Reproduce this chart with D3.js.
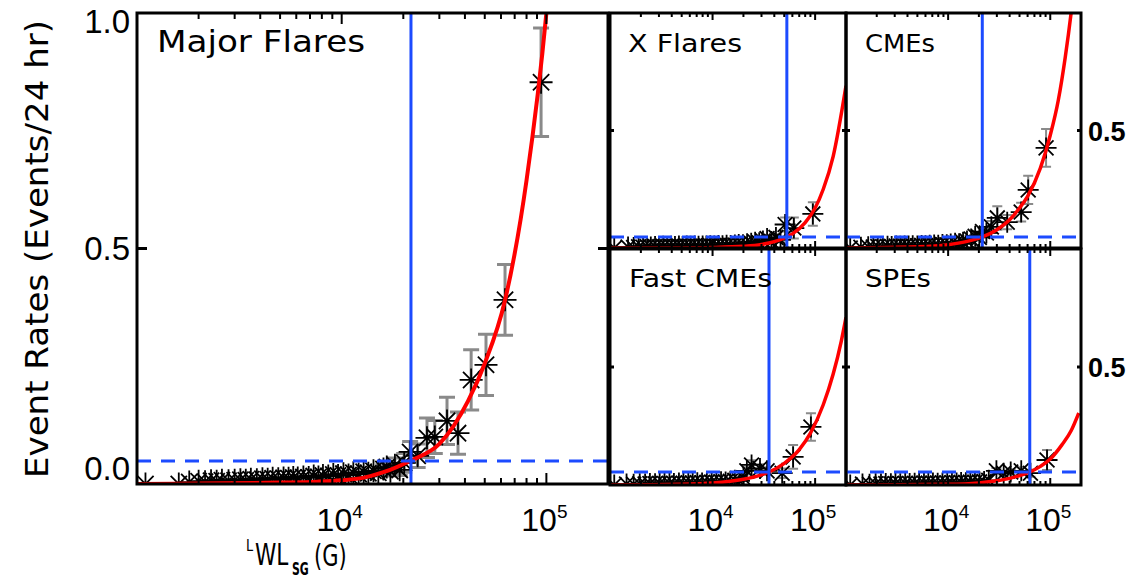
<!DOCTYPE html>
<html><head><meta charset="utf-8">
<script src="https://cdn.jsdelivr.net/npm/d3@7"></script>
<style>body{margin:0;background:#fff}svg{display:block}</style>
</head><body>
<svg id="c" width="1127" height="588"></svg>
<script>
// ---------------- DATA ----------------
const panelTitles = ["Major Flares", "X Flares", "CMEs", "Fast CMEs", "SPEs"];
const xTickValues = [1e4, 1e5];
const xTickExponents = ["4", "5"];
const yLeftTickLabels = ["0.0", "0.5", "1.0"];
const yLeftTickValues = [0, 0.5, 1.0];
const yRightTickLabels = ["0.5"];
const yRightTickValues = [0.5];
const xTitleParts = ["L", "WL", "SG", "(G)"];
const yTitle = "Event Rates (Events/24 hr)";

// Major Flares observed rates
const majorX = [1100,1600,1800,2000,2150,2300,2450,2600,2800,3000,3200,3400,3600,3850,4100,4350,4600,4900,5200,5500,5800,6100,6500,6900,7300,7700,8100,8600,9100,9600,10200,10800,11400,12100,12800,13500,14300,15100,16000,16600,17300,18200,19200,20200,21600,23500,26100,28500,32700,37000,42900,50700,62800,94200];
const majorY = [0.0,0.0,0.004,0.006,0.005,0.007,0.006,0.008,0.007,0.008,0.009,0.008,0.010,0.009,0.011,0.010,0.012,0.011,0.013,0.012,0.014,0.013,0.015,0.014,0.017,0.015,0.018,0.017,0.020,0.018,0.022,0.019,0.024,0.021,0.026,0.023,0.028,0.024,0.032,0.036,0.027,0.040,0.030,0.045,0.068,0.060,0.098,0.100,0.134,0.108,0.221,0.253,0.391,0.853];
const majorErr = [0,0,0,0,0,0,0,0,0,0,0,0,0,0,0,0,0,0,0,0,0,0,0,0,0,0,0,0,0,0,0,0,0,0,0,0,0,0,0.010,0.012,0.010,0.015,0.012,0.020,0.022,0.025,0.042,0.035,0.050,0.045,0.064,0.065,0.075,0.115];
const majorFitX = [1000,2000,5000,7600,10000,12700,16000,21800,30000,41400,50000,62800,80000,100000,110000];
const majorFitY = [0.000,0.001,0.003,0.005,0.008,0.013,0.025,0.050,0.085,0.176,0.256,0.390,0.645,1.000,1.210];

// X Flares
const xflX = [1100,1500,1700,1900,2100,2300,2500,2750,3000,3300,3600,3950,4300,4700,5100,5600,6100,6700,7300,8000,8700,9500,10400,11400,12500,13700,15000,16500,18000,19800,21700,23800,26000,28500,31000,34000,37500,41500,46000,51000,62000,95000];
const xflY = [0.0,0.004,0.002,0.005,0.003,0.006,0.004,0.006,0.005,0.007,0.005,0.007,0.006,0.008,0.006,0.008,0.007,0.009,0.007,0.009,0.008,0.010,0.009,0.011,0.010,0.012,0.011,0.013,0.015,0.014,0.018,0.020,0.025,0.022,0.030,0.040,0.028,0.045,0.035,0.100,0.085,0.145];
const xflErr = [0,0,0,0,0,0,0,0,0,0,0,0,0,0,0,0,0,0,0,0,0,0,0,0,0,0,0,0,0,0,0,0,0,0,0,0.010,0,0.012,0.010,0.030,0.045,0.050];
const xflFitX = [1000,5000,10000,20000,30000,40000,53000,60000,80000,100000,120000,150000,200000];
const xflFitY = [0.000,0.0005,0.002,0.007,0.015,0.027,0.047,0.060,0.108,0.170,0.250,0.390,0.690];

// CMEs
const cmeX = [1100,1400,1650,1850,2050,2300,2550,2800,3100,3400,3750,4100,4500,5000,5500,6000,6600,7300,8000,8800,9700,10600,11700,12800,14000,15300,16800,18400,20200,21700,23700,26500,30300,37900,51900,60800,91000];
const cmeY = [0.0,0.003,0.005,0.004,0.006,0.005,0.007,0.006,0.008,0.007,0.009,0.008,0.010,0.009,0.011,0.010,0.012,0.013,0.012,0.015,0.014,0.017,0.020,0.018,0.024,0.030,0.038,0.050,0.045,0.070,0.064,0.090,0.128,0.110,0.153,0.247,0.426];
const cmeErr = [0,0,0,0,0,0,0,0,0,0,0,0,0,0,0,0,0,0,0,0,0,0,0,0,0,0,0,0,0,0.015,0.018,0.025,0.050,0.030,0.040,0.060,0.080];
const cmeFitX = [1000,5000,10000,15000,21600,30000,40000,50000,60000,80000,100000,120000,140000,160000,170000];
const cmeFitY = [0.000,0.005,0.014,0.027,0.047,0.078,0.120,0.170,0.220,0.340,0.480,0.630,0.810,1.000,1.100];

// Fast CMEs
const fastX = [1100,1450,1700,1950,2200,2450,2750,3050,3400,3800,4200,4700,5200,5800,6400,7100,7900,8800,9800,10900,12100,13400,14900,16500,18300,20000,21600,24000,29000,34000,47700,61000,91000];
const fastY = [0.0,0.004,0.003,0.005,0.004,0.006,0.005,0.007,0.006,0.007,0.006,0.008,0.007,0.009,0.008,0.010,0.009,0.011,0.012,0.011,0.014,0.013,0.016,0.020,0.018,0.030,0.060,0.085,0.070,0.060,0.050,0.119,0.246];
const fastErr = [0,0,0,0,0,0,0,0,0,0,0,0,0,0,0,0,0,0,0,0,0,0,0,0,0,0,0.015,0.020,0.018,0.015,0.020,0.050,0.058];
const fastFitX = [1000,5000,10000,20000,30000,35500,50000,70000,90000,120000,150000,180000,200000];
const fastFitY = [0.000,0.003,0.008,0.024,0.043,0.055,0.092,0.150,0.220,0.340,0.470,0.610,0.710];

// SPEs
const speX = [1100,1450,1700,1950,2200,2450,2750,3050,3400,3800,4200,4700,5200,5800,6400,7100,7900,8800,9800,10900,12100,13400,14900,16500,18300,20300,22500,25000,29700,35000,41000,52000,64000,93000];
const speY = [0.0,0.004,0.003,0.005,0.004,0.006,0.005,0.006,0.005,0.007,0.006,0.007,0.006,0.008,0.007,0.008,0.007,0.009,0.008,0.010,0.009,0.011,0.010,0.012,0.011,0.013,0.015,0.020,0.060,0.050,0.055,0.060,0.050,0.106];
const speErr = [0,0,0,0,0,0,0,0,0,0,0,0,0,0,0,0,0,0,0,0,0,0,0,0,0,0,0,0,0.012,0.010,0.012,0.015,0.015,0.042];
const speFitX = [1000,10000,20000,30000,40000,50000,63000,80000,100000,130000,160000,190000];
const speFitY = [0.000,0.003,0.009,0.018,0.028,0.040,0.055,0.079,0.110,0.170,0.230,0.305];

// thresholds: vertical (field strength) and horizontal (rate)
const thresholdX = [21800, 53000, 21600, 35500, 63000];
const thresholdY = [0.049, 0.047, 0.047, 0.055, 0.055];

// ---------------- DRAW ----------------
const svg = d3.select("#c");
const RED = "#ff0000", BLUE = "#1c4bff", GRAY = "#8a8a8a";

const panels = [
  {x0:137, x1:608, y0:13, y1:484, X:majorX, Y:majorY, E:majorErr, FX:majorFitX, FY:majorFitY, big:true},
  {x0:610, x1:846, y0:13, y1:248, X:xflX, Y:xflY, E:xflErr, FX:xflFitX, FY:xflFitY},
  {x0:846, x1:1081, y0:13, y1:248, X:cmeX, Y:cmeY, E:cmeErr, FX:cmeFitX, FY:cmeFitY, right:true},
  {x0:610, x1:846, y0:249, y1:485, X:fastX, Y:fastY, E:fastErr, FX:fastFitX, FY:fastFitY},
  {x0:846, x1:1081, y0:249, y1:485, X:speX, Y:speY, E:speErr, FX:speFitX, FY:speFitY, right:true}
];
const titlePos = [
  {x:157, y:52, fs:30, len:208},
  {x:628, y:52, fs:24, len:114},
  {x:865, y:52, fs:24, len:70},
  {x:629, y:287, fs:24, len:143},
  {x:865, y:287, fs:24, len:66}
];

const defs = svg.append("defs");

function star(r) {
  const d = r * Math.SQRT1_2;
  return `M${-r},0L${r},0M0,${-r}L0,${r}M${-d},${-d}L${d},${d}M${-d},${d}L${d},${-d}`;
}

panels.forEach((p, i) => {
  const x = d3.scaleLog().domain([1e3, 2e5]).range([p.x0, p.x1]);
  const y = d3.scaleLinear().domain([0, 1]).range([p.y1, p.y0]);
  const g = svg.append("g");
  const cid = "clip" + i;
  defs.append("clipPath").attr("id", cid).append("rect")
    .attr("x", p.x0).attr("y", p.y0).attr("width", p.x1 - p.x0).attr("height", p.y1 - p.y0);
  const inner = g.append("g").attr("clip-path", `url(#${cid})`);

  const data = p.X.map((v, k) => ({x: v, y: p.Y[k], e: p.E[k]}));
  const cap = p.big ? 8 : 5;
  const eb = inner.append("g").attr("stroke", GRAY).attr("stroke-width", p.big ? 3 : 2).attr("fill", "none");
  data.filter(d => d.e > 0).forEach(d => {
    const cx = x(d.x), t = y(d.y + d.e), b = y(d.y - d.e);
    eb.append("path").attr("d", `M${cx},${t}L${cx},${b}M${cx-cap},${t}L${cx+cap},${t}M${cx-cap},${b}L${cx+cap},${b}`);
  });
  const r = p.big ? 11.5 : 10.5;
  inner.append("g").selectAll("path").data(data).join("path")
    .attr("transform", d => `translate(${x(d.x)},${y(d.y)})`)
    .attr("d", star(r)).attr("stroke", "#000").attr("stroke-width", 1.8).attr("fill", "none");

  const fit = p.FX.map((v, k) => [v, p.FY[k]]);
  inner.append("path").datum(fit)
    .attr("d", d3.line().x(d => x(d[0])).y(d => y(d[1])).curve(d3.curveMonotoneX))
    .attr("fill", "none").attr("stroke", RED).attr("stroke-width", p.big ? 4 : 3.5);

  inner.append("line").attr("x1", x(thresholdX[i])).attr("x2", x(thresholdX[i]))
    .attr("y1", p.y0).attr("y2", p.y1).attr("stroke", BLUE).attr("stroke-width", 3);
  inner.append("line").attr("x1", p.x0).attr("x2", p.x1)
    .attr("y1", y(thresholdY[i])).attr("y2", y(thresholdY[i]))
    .attr("stroke", BLUE).attr("stroke-width", 3).attr("stroke-dasharray", "14,10");

  // ticks
  const all = x.ticks();
  const major = all.filter(v => Math.abs(Math.log10(v) - Math.round(Math.log10(v))) < 1e-9);
  const minor = all.filter(v => !major.includes(v));
  const lmaj = p.big ? 11 : 7, lmin = p.big ? 6 : 4;
  const tk = g.append("g").attr("stroke", "#000").attr("stroke-width", 2);
  [[p.y1, -1], [p.y0, 1]].forEach(([yy, dir]) => {
    major.forEach(v => tk.append("line").attr("x1", x(v)).attr("x2", x(v)).attr("y1", yy).attr("y2", yy + dir * lmaj));
    minor.forEach(v => tk.append("line").attr("x1", x(v)).attr("x2", x(v)).attr("y1", yy).attr("y2", yy + dir * lmin));
  });
  [0.5].forEach(v => {
    const l = p.big ? 10 : 4;
    tk.append("line").attr("x1", p.x0).attr("x2", p.x0 + l).attr("y1", y(v)).attr("y2", y(v)).attr("stroke-width", 3);
    tk.append("line").attr("x1", p.x1).attr("x2", p.x1 - l).attr("y1", y(v)).attr("y2", y(v)).attr("stroke-width", 3);
  });

  // frame
  g.append("rect").attr("x", p.x0).attr("y", p.y0).attr("width", p.x1 - p.x0).attr("height", p.y1 - p.y0)
    .attr("fill", "none").attr("stroke", "#000").attr("stroke-width", 3);

  // title
  const tp = titlePos[i];
  g.append("text").attr("x", tp.x).attr("y", tp.y).attr("font-family", "DejaVu Sans")
    .attr("font-size", tp.fs).attr("textLength", tp.len).attr("lengthAdjust", "spacingAndGlyphs")
    .attr("fill", "#000").text(panelTitles[i]);

  // x tick labels for bottom-row panels
  if (p.big || i >= 3) {
    xTickValues.forEach((v, k) => {
      const t = svg.append("text").attr("x", x(v) - 2).attr("y", 531)
        .attr("text-anchor", "middle").attr("font-family", "Liberation Sans").attr("font-size", 32).attr("fill", "#000");
      t.append("tspan").text("10");
      t.append("tspan").attr("font-size", 19).attr("dy", -13).text(xTickExponents[k]);
    });
  }
  // left y labels for main
  if (p.big) {
    const yoff = [ -4, 11, 20 ];
    yLeftTickValues.forEach((v, k) => {
      svg.append("text").attr("x", 130).attr("y", y(v) + yoff[k]).attr("text-anchor", "end")
        .attr("font-family", "Liberation Sans").attr("font-size", 33).attr("fill", "#000").text(yLeftTickLabels[k]);
    });
  }
  if (p.right) {
    yRightTickValues.forEach((v, k) => {
      svg.append("text").attr("x", 1088).attr("y", y(v) + 10).attr("font-family", "Liberation Sans")
        .attr("font-weight", "bold").attr("font-size", 27).attr("fill", "#000").text(yRightTickLabels[k]);
    });
  }
});

// axis titles
svg.append("text").attr("transform", "translate(37,249) rotate(-90)").attr("text-anchor", "middle")
  .attr("dominant-baseline", "central").attr("font-family", "DejaVu Sans").attr("font-size", 32)
  .attr("textLength", 458).attr("lengthAdjust", "spacingAndGlyphs").text(yTitle);

// x-axis title, built from separate horizontally-condensed pieces (superscript L, WL, subscript SG, (G))
const xParts = [
  {x:246, y:551, fs:16, sx:0.8, bold:false},
  {x:255, y:565, fs:30, sx:0.72, bold:false},
  {x:292, y:575, fs:17, sx:0.64, bold:true},
  {x:314, y:566, fs:30, sx:0.7, bold:false}
];
xParts.forEach((s, k) => {
  svg.append("text").attr("transform", `translate(${s.x},${s.y}) scale(${s.sx},1)`)
    .attr("font-family", "DejaVu Sans").attr("font-size", s.fs).attr("font-weight", s.bold ? "bold" : "normal")
    .attr("fill", "#000").text(xTitleParts[k]);
});
</script>
</body></html>
